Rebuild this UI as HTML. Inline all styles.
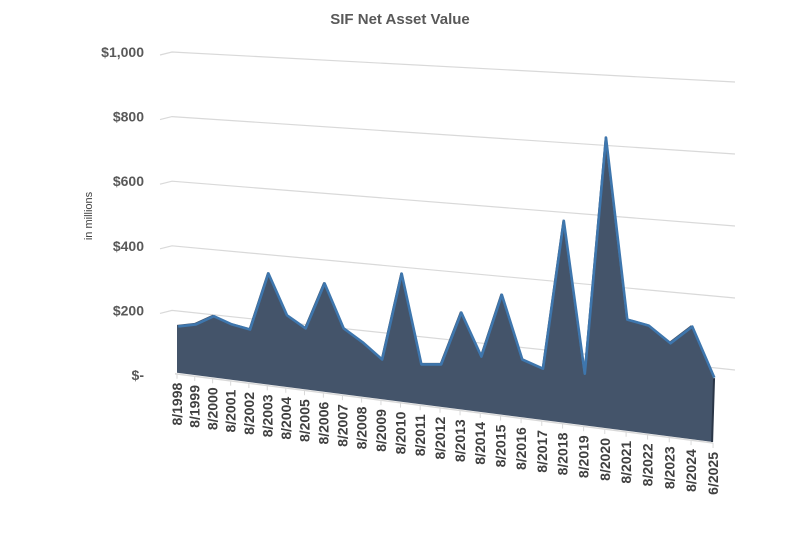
<!DOCTYPE html>
<html>
<head>
<meta charset="utf-8">
<style>
  html,body{margin:0;padding:0;background:#fff;}
  svg{display:block;font-family:"Liberation Sans",sans-serif;}
</style>
</head>
<body>
<svg id="chart" width="800" height="555" viewBox="0 0 800 555">
  <text x="400" y="24" text-anchor="middle" font-size="15" font-weight="bold" fill="#595959">SIF Net Asset Value</text>
  <text x="0" y="0" transform="translate(92,216) rotate(-90)" text-anchor="middle" font-size="11" fill="#404040">in millions</text>
  <g id="grid"></g>
  <g id="ylabels"></g>
  <g id="series"></g>
  <g id="xaxis"></g>
</svg>
<script>
const categories = ["8/1998","8/1999","8/2000","8/2001","8/2002","8/2003","8/2004","8/2005","8/2006","8/2007","8/2008","8/2009","8/2010","8/2011","8/2012","8/2013","8/2014","8/2015","8/2016","8/2017","8/2018","8/2019","8/2020","8/2021","8/2022","8/2023","8/2024","6/2025"];
const values = [157,170,203,183,173,358,231,196,343,209,172,126,395,125,132,294,169,359,174,154,590,153,837,321,310,266,319,183];
const yTicks = [0,200,400,600,800,1000];
const yTickLabels = ["$-","$200","$400","$600","$800","$1,000"];

const NS = "http://www.w3.org/2000/svg";
function mk(tag, attrs, parent){const e=document.createElementNS(NS,tag);for(const k in attrs)e.setAttribute(k,attrs[k]);parent.appendChild(e);return e;}

const n = categories.length;
function xPos(i){const t=i*27/(n-1);return 177+17.64*t+0.082*t*t;}
function baseY(x){return 373+69*(x-179)/534;}
function scaleAt(x){return 0.305+0.055*(x-177)/537;}
function yPos(i,v){const x=xPos(i);return baseY(x)-v*scaleAt(x);}
function gridLeftY(v){return 375-v*0.323;}
function gridRightY(v){return 442-v*0.36;}

const grid=document.getElementById('grid');
const ylab=document.getElementById('ylabels');
yTicks.forEach((v,k)=>{
  const yl=gridLeftY(v), yr=gridRightY(v);
  if(v>0){
    const p=mk('polyline',{points:`160,${yl+3} 172,${yl} 735,${yr}`,fill:'none',stroke:'#d9d9d9','stroke-width':1.2},grid);
    
    
  }
  const t=mk('text',{x:144,y:yl+5,'text-anchor':'end','font-size':14,'font-weight':'bold',fill:'#595959'},ylab);
  t.textContent=yTickLabels[k];
  
  
});

const series=document.getElementById('series');
const topPts=[];
for(let i=0;i<n;i++)topPts.push([xPos(i),yPos(i,values[i])]);
const x0=xPos(0),xn=xPos(n-1);
const d=`M${x0},${baseY(x0)} `+topPts.map(p=>`L${p[0].toFixed(1)},${p[1].toFixed(1)}`).join(' ')+` L${xn},${baseY(xn)} Z`;
const area=mk('path',{d:d,fill:'#44546a'},series);


const edge=mk('polyline',{points:topPts.map(p=>`${(p[0]+1.2).toFixed(1)},${(p[1]+1.5).toFixed(1)}`).join(' '),fill:'none',stroke:'#3e76ad','stroke-width':2.6,'stroke-linejoin':'round'},series);


const side=mk('line',{x1:xn+1,y1:topPts[n-1][1]+2,x2:xn-1,y2:baseY(xn),stroke:'#2a3647','stroke-width':2},series);



const xa=document.getElementById('xaxis');
const axl=mk('line',{x1:x0-2,y1:baseY(x0)+1,x2:xn,y2:baseY(xn)+1,stroke:'#d9d9d9','stroke-width':1.5},xa);


categories.forEach((c,i)=>{
  const x=xPos(i),b=baseY(x);
  const tk=mk('line',{x1:x,y1:b+1,x2:x,y2:b+6,stroke:'#d9d9d9','stroke-width':1},xa);
  
  
  const t=mk('text',{x:0,y:0,transform:`translate(${(x+5).toFixed(1)},${(b+10).toFixed(1)}) rotate(-90)`,'text-anchor':'end','font-size':14,'font-weight':'bold',fill:'#404040'},xa);
  t.textContent=c;
  
  
});
</script>
</body>
</html>
